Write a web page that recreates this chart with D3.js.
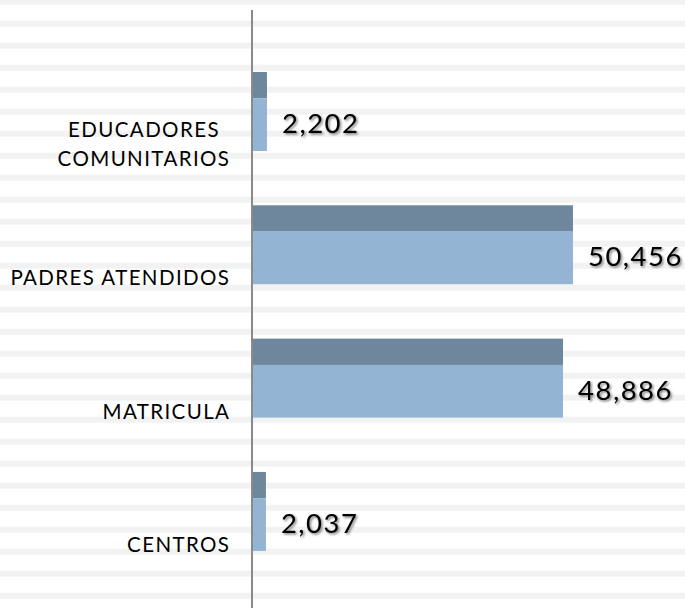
<!DOCTYPE html>
<html>
<head>
<meta charset="utf-8">
<script src="https://cdn.jsdelivr.net/npm/d3@7"></script>
<style>
  html, body { margin: 0; padding: 0; background: #ffffff; }
  svg { display: block; }
</style>
</head>
<body>
<div id="chart"></div>
<script>
// ---- Data ----
const categories = [["EDUCADORES", "COMUNITARIOS"], ["PADRES ATENDIDOS"], ["MATRICULA"], ["CENTROS"]];
const categoryKeys = ["EDUCADORES COMUNITARIOS", "PADRES ATENDIDOS", "MATRICULA", "CENTROS"];
const values = [2202, 50456, 48886, 2037];
const valueLabels = ["2,202", "50,456", "48,886", "2,037"];

const W = 685, H = 608;
const font = "Lato, 'Open Sans', sans-serif";

const svg = d3.select("#chart").append("svg")
  .attr("width", W).attr("height", H);

// drop shadow for value labels
const defs = svg.append("defs");
const f = defs.append("filter").attr("id", "shadow")
  .attr("x", "-10%").attr("y", "-20%").attr("width", "130%").attr("height", "160%");
f.append("feDropShadow").attr("dx", 1.5).attr("dy", 1.5)
  .attr("stdDeviation", 1).attr("flood-color", "#000").attr("flood-opacity", 0.5);

// background stripes
svg.append("g").selectAll("rect")
  .data(d3.range(-1, 27))
  .join("rect")
  .attr("x", 0).attr("width", W)
  .attr("y", k => 20.7 + 22 * k).attr("height", 6)
  .attr("fill", "#f2f2f2");

// scales
const x = d3.scaleLinear().domain([0, 60000]).range([253, 633.5]);
const y = d3.scaleBand().domain(categoryKeys)
  .range([5.3, 617.6]).paddingInner(0.4075).paddingOuter(0.5).align(0.5);

const bw = y.bandwidth();
const topH = bw / 3;

const rows = categoryKeys.map((k, i) => ({ key: k, lines: categories[i], value: values[i], label: valueLabels[i] }));

const g = svg.append("g");

// dark top face
g.selectAll("rect.top").data(rows).join("rect")
  .attr("class", "top")
  .attr("x", x(0))
  .attr("y", d => y(d.key))
  .attr("width", d => x(d.value) - x(0))
  .attr("height", topH)
  .attr("fill", "#6f879d");

// light front face
g.selectAll("rect.front").data(rows).join("rect")
  .attr("class", "front")
  .attr("x", x(0))
  .attr("y", d => y(d.key) + topH)
  .attr("width", d => x(d.value) - x(0))
  .attr("height", bw - topH)
  .attr("fill", "#93b4d2");

// value labels
g.selectAll("text.val").data(rows).join("text")
  .attr("class", "val")
  .attr("x", d => x(d.value) + 15)
  .attr("y", d => y(d.key) + 61)
  .attr("font-family", font)
  .attr("font-size", 27.5)
  .attr("letter-spacing", 1.5)
  .attr("fill", "#000")
  .attr("filter", "url(#shadow)")
  .text(d => d.label);

// axis line (category axis) via d3 axis
const axis = d3.axisLeft(y).tickSize(0).tickFormat("");
const axG = svg.append("g").attr("transform", `translate(${x(0) - 1},0)`).call(axis);
axG.select(".domain").attr("d", `M0,10V${H}`).attr("stroke", "#8a8a8a").attr("stroke-width", 2);

// category labels
const labelX = 229;
const lab = svg.append("g").selectAll("text.cat").data(rows).join("text")
  .attr("class", "cat")
  .attr("font-family", font)
  .attr("font-size", 20.5)
  .attr("letter-spacing", 1.4)
  .attr("fill", "#000");

lab.each(function(d) {
  const t = d3.select(this);
  const center = y(d.key) + 73; // vertical center of label block
  const lh = 29;
  const n = d.lines.length;
  if (n === 1) {
    t.attr("text-anchor", "end").attr("x", labelX + 1.4).attr("y", center + 7).text(d.lines[0]);
  } else {
    t.attr("text-anchor", "middle");
    d.lines.forEach((ln, i) => {
      t.append("tspan").attr("y", center + 7 + (i - (n - 1) / 2) * lh).text(ln);
    });
    const widths = [];
    t.selectAll("tspan").each(function() { widths.push(this.getComputedTextLength()); });
    const cx = labelX + 1.4 - d3.max(widths) / 2;
    t.selectAll("tspan").attr("x", cx);
  }
});
</script>
</body>
</html>
